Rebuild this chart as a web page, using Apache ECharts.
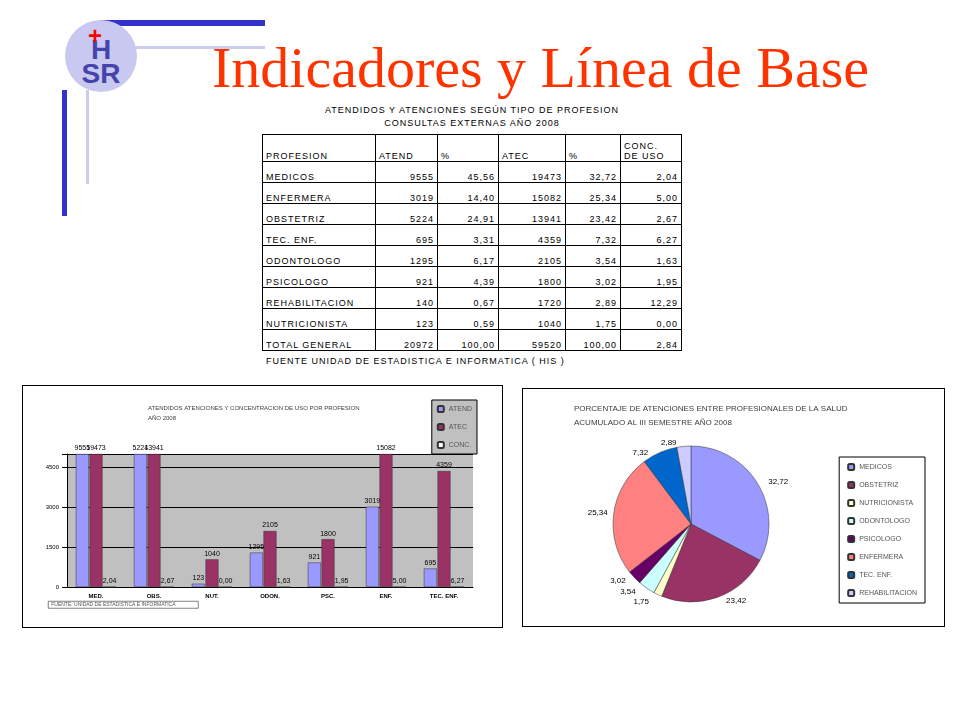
<!DOCTYPE html>
<html><head><meta charset="utf-8">
<script src="https://cdn.jsdelivr.net/npm/echarts@6/dist/echarts.min.js"></script>
<style>
body{margin:0;width:960px;height:720px;background:#fff;position:relative;font-family:Arial,"Liberation Sans",sans-serif;overflow:hidden}
#title{position:absolute;left:212px;top:34px;font-family:"Liberation Serif",serif;font-size:58px;color:#FF3300}
.bar{position:absolute;background:#3333CC}
#cap{position:absolute;left:262px;top:104px;width:420px;text-align:center;font-size:9px;letter-spacing:1px;line-height:13px}
table{position:absolute;left:262px;top:134px;border-collapse:collapse;font-size:9px;letter-spacing:1px}
td{border:1px solid #000;height:20px;padding:0 3px;vertical-align:bottom}
td.n{text-align:right}
#src{position:absolute;left:266px;top:356px;font-size:9px;letter-spacing:1px}
.box{position:absolute;border:1px solid #000}
</style></head><body>
<div class="bar" style="left:100px;top:20px;width:165px;height:6px"></div>
<div class="bar" style="left:62px;top:90px;width:5px;height:126px"></div>
<div class="bar" style="left:104px;top:20px;width:5px;height:20px"></div>
<div style="position:absolute;left:85px;top:46px;width:180px;height:3px;background:#ccccee"></div>
<div style="position:absolute;left:86px;top:90px;width:3px;height:94px;background:#ccccee"></div>
<div style="position:absolute;left:65px;top:20px;width:72px;height:72px;border-radius:50%;background:#C8C8F0"></div>
<div style="position:absolute;left:72px;top:38px;font:bold 28px 'Liberation Sans';color:#4444AA;line-height:24px;text-align:center;width:58px">H<br>SR</div>
<div style="position:absolute;left:88px;top:26px;color:#FF0000;font:bold 24px 'Liberation Sans';line-height:20px">+</div>
<div id="title">Indicadores y Línea de Base</div>
<div id="cap">ATENDIDOS Y ATENCIONES SEGÚN TIPO DE PROFESION<br>CONSULTAS EXTERNAS AÑO 2008</div>
<table id="tbl"></table>
<div id="src">FUENTE UNIDAD DE ESTADISTICA E INFORMATICA ( HIS )</div>
<div class="box" style="left:22px;top:385px;width:479px;height:241px"></div>
<div class="box" style="left:522px;top:388px;width:421px;height:237px"></div>
<div id="bar" style="position:absolute;left:23px;top:386px;width:478px;height:239px"></div>
<div id="pie" style="position:absolute;left:523px;top:389px;width:420px;height:236px"></div>
<script>
const profesiones = ['MEDICOS','ENFERMERA','OBSTETRIZ','TEC. ENF.','ODONTOLOGO','PSICOLOGO','REHABILITACION','NUTRICIONISTA','TOTAL GENERAL'];
const atend = [9555,3019,5224,695,1295,921,140,123,20972];
const atendPct = ['45,56','14,40','24,91','3,31','6,17','4,39','0,67','0,59','100,00'];
const atec = [19473,15082,13941,4359,2105,1800,1720,1040,59520];
const atecPct = ['32,72','25,34','23,42','7,32','3,54','3,02','2,89','1,75','100,00'];
const conc = ['2,04','5,00','2,67','6,27','1,63','1,95','12,29','0,00','2,84'];

let html = '<tr><td style="width:106px">PROFESION</td><td style="width:55px">ATEND</td><td style="width:54px">%</td><td style="width:60px">ATEC</td><td style="width:48px">%</td><td style="width:54px;height:26px">CONC.<br>DE USO</td></tr>';
profesiones.forEach((p,i)=>{
  html += '<tr><td>'+p+'</td><td class="n">'+atend[i]+'</td><td class="n">'+atendPct[i]+'</td><td class="n">'+atec[i]+'</td><td class="n">'+atecPct[i]+'</td><td class="n">'+conc[i]+'</td></tr>';
});
document.getElementById('tbl').innerHTML = html;

// bar chart
const barCats = ['MED.','OBS.','NUT.','ODON.','PSC.','ENF.','TEC. ENF.'];
const barAtend = [9555,5224,123,1295,921,3019,695];
const barAtec = [19473,13941,1040,2105,1800,15082,4359];
const barConc = [2.04,2.67,0.00,1.63,1.95,5.00,6.27];
const cap = 5000;
const lbl = {show:true,position:'top',fontSize:7,color:'#000',distance:2};
const bar = echarts.init(document.getElementById('bar'));
bar.setOption({
  animation:false,
  title:{text:'ATENDIDOS ATENCIONES Y CONCENTRACION DE USO POR PROFESION\nAÑO 2008',left:120,top:12,textStyle:{fontSize:6,fontWeight:'normal',lineHeight:10}},
  legend:{orient:'vertical',right:24,top:14,itemWidth:6,itemHeight:6,itemGap:10,textStyle:{fontSize:7},backgroundColor:'#c0c0c0',borderColor:'#000',borderWidth:1,padding:5,
    data:['ATEND','ATEC','CONC.']},
  grid:{left:44,right:28,top:68,bottom:38,backgroundColor:'#c0c0c0',show:true,borderWidth:0},
  xAxis:{type:'category',data:barCats,axisTick:{show:false},axisLine:{lineStyle:{color:'#000'}},axisLabel:{fontSize:6,color:'#000',fontWeight:'bold',margin:6}},
  yAxis:{type:'value',min:0,max:cap,interval:1500,axisLine:{show:true,lineStyle:{color:'#000'}},axisTick:{show:true},
    axisLabel:{fontSize:6,color:'#000',formatter:v=>v===cap?'':v},splitLine:{lineStyle:{color:'#000'}}},
  series:[
    {name:'ATEND',type:'bar',barWidth:13,barGap:'5%',data:barAtend.map(v=>Math.min(v,cap)),
      itemStyle:{color:'#9999FF',borderColor:'#333',borderWidth:0.5},label:Object.assign({},lbl,{formatter:p=>barAtend[p.dataIndex]})},
    {name:'ATEC',type:'bar',barWidth:13,data:barAtec.map(v=>Math.min(v,cap)),
      itemStyle:{color:'#993366',borderColor:'#333',borderWidth:0.5},label:Object.assign({},lbl,{formatter:p=>barAtec[p.dataIndex]})},
    {name:'CONC.',type:'bar',barWidth:13,data:barConc,
      itemStyle:{color:'#FFFFFF',borderColor:'#333',borderWidth:0.5},label:Object.assign({},lbl,{formatter:p=>barConc[p.dataIndex].toFixed(2).replace('.',',')})}
  ],
  graphic:[{type:'group',left:25,top:215,children:[
    {type:'rect',shape:{width:150,height:7},style:{fill:'#fff',stroke:'#000',lineWidth:0.5}},
    {type:'text',style:{x:3,y:1,text:'FUENTE: UNIDAD DE ESTADISTICA E INFORMATICA',fontSize:5,fill:'#555'}}]}]
});

// pie chart
const pieNames = ['MEDICOS','OBSTETRIZ','NUTRICIONISTA','ODONTOLOGO','PSICOLOGO','ENFERMERA','TEC. ENF.','REHABILITACION'];
const pieValues = [32.72,23.42,1.75,3.54,3.02,25.34,7.32,2.89];
const pieColors = ['#9999FF','#993366','#FFFFCC','#CCFFFF','#660066','#FF8080','#0066CC','#CCCCFF'];
const pie = echarts.init(document.getElementById('pie'));
pie.setOption({
  animation:false,
  color:pieColors,
  title:{text:'PORCENTAJE DE ATENCIONES ENTRE PROFESIONALES DE LA SALUD\nACUMULADO AL III SEMESTRE AÑO 2008',left:46,top:8,
    textStyle:{fontSize:8,fontWeight:'normal',lineHeight:14},textAlign:'left'},
  legend:{orient:'vertical',right:18,top:68,itemWidth:6,itemHeight:6,itemGap:10,textStyle:{fontSize:7},
    borderColor:'#000',borderWidth:1,padding:[6,8],data:pieNames},
  series:[{type:'pie',center:[168,135],radius:[0,78],startAngle:90,clockwise:true,
    data:pieNames.map((n,i)=>({name:n,value:pieValues[i]})),
    itemStyle:{borderColor:'#333',borderWidth:0.5},
    label:{formatter:p=>pieValues[p.dataIndex].toFixed(2).replace('.',','),fontSize:8,color:'#000'},
    labelLine:{show:false,length:4,length2:2}}]
});
</script>
</body></html>
